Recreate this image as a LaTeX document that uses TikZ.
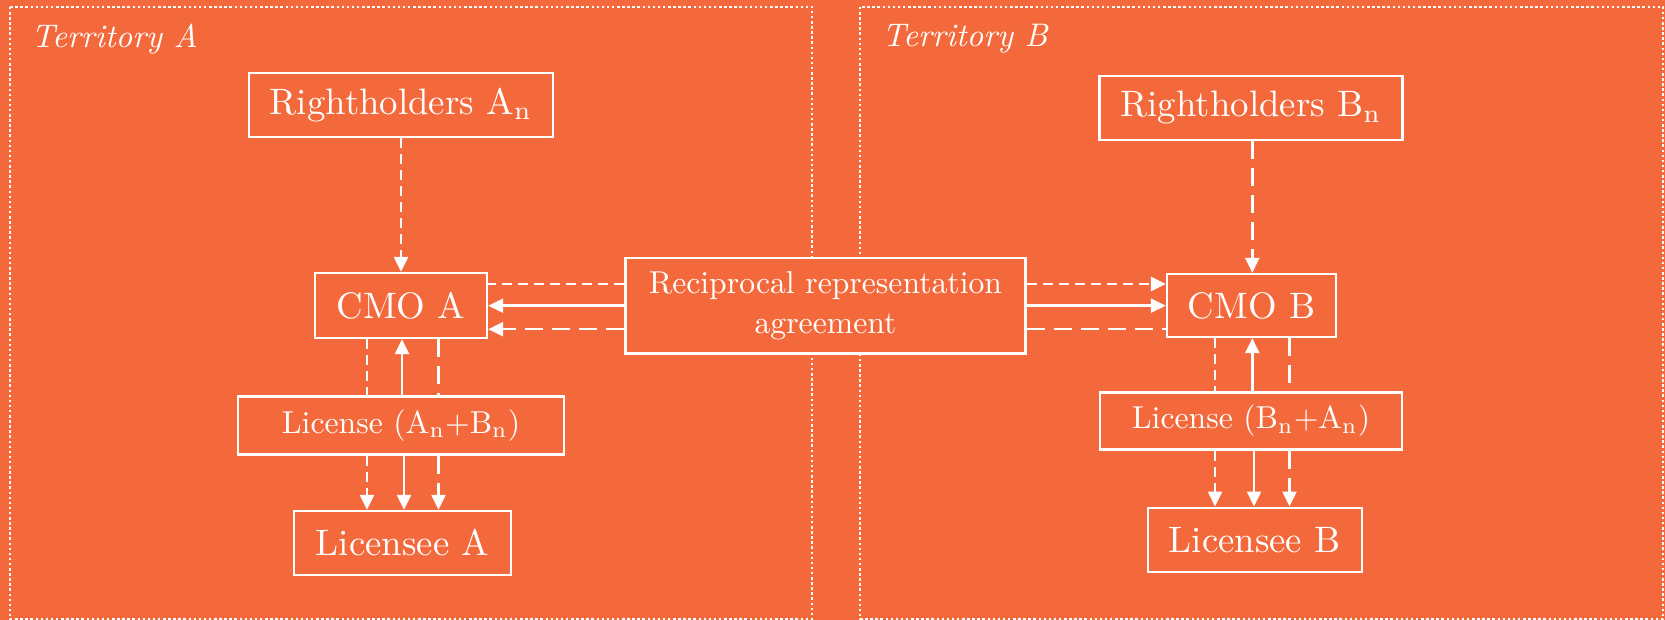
\documentclass[tikz,border=0pt]{standalone}
\usepackage{graphicx}
\usetikzlibrary{arrows.meta}
\definecolor{bg}{RGB}{243,105,59}
\newcommand{\bigt}[1]{\scalebox{3.68}{\fontsize{10}{12}\selectfont #1}}
\newcommand{\medt}[1]{\scalebox{3.17}{\fontsize{10}{12.6}\selectfont #1}}
\newcommand{\terrt}[1]{\scalebox{3.27}{\fontsize{10}{12}\selectfont\itshape #1}}
\begin{document}
\begin{tikzpicture}[x=1pt,y=-1pt,
  box/.style={draw=white,line width=2.4pt,fill=bg,text=white,inner sep=0pt,align=center},
  terr/.style={draw=white,line width=2.5pt,dash pattern=on 2.5pt off 2.6pt},
  sdash/.style={draw=white,line width=2.4pt,dash pattern=on 10pt off 6pt},
  ldash/.style={draw=white,line width=2.4pt,dash pattern=on 18pt off 9pt},
  solidl/.style={draw=white,line width=2.4pt},
  tip/.style={-{Triangle[length=15pt,width=14pt]}}]
\useasboundingbox (0,0) rectangle (1665,620);
\fill[bg] (0,0) rectangle (1665,620);
% territories
\draw[terr] (10,7) rectangle (812,619);
\draw[terr] (860,7) rectangle (1663,619);
\node[anchor=base west,text=white,inner sep=0pt] (tA) at (31,47.3) {\terrt{Territory A}};
\node[anchor=base west,text=white,inner sep=0pt] (tB) at (882,46.7) {\terrt{Territory B}};
% nodes
\node[box,minimum width=304,minimum height=64] (rhA) at (401,105) {\bigt{Rightholders A\textsubscript{n}}};
\node[box,minimum width=303,minimum height=64] (rhB) at (1251,108) {\bigt{Rightholders B\textsubscript{n}}};
\node[box,minimum width=172,minimum height=65] (cmoA) at (401,305.5) {\bigt{CMO A}};
\node[box,minimum width=169,minimum height=63] (cmoB) at (1251.5,305.5) {\bigt{CMO B}};
\node[box,minimum width=400,minimum height=95] (rec) at (825.5,305.8) {\medt{\begin{tabular}{@{}c@{}}Reciprocal representation\\agreement\end{tabular}}};
\node[box,minimum width=326,minimum height=58] (licA) at (401,425.3) {\medt{License (A\textsubscript{n}+B\textsubscript{n})}};
\node[box,minimum width=302,minimum height=57] (licB) at (1251,421) {\medt{License (B\textsubscript{n}+A\textsubscript{n})}};
\node[box,minimum width=217,minimum height=64] (leA) at (402.5,543) {\bigt{Licensee A}};
\node[box,minimum width=214,minimum height=64] (leB) at (1254.7,539.7) {\bigt{Licensee B}};
% helper coordinates
\coordinate (ya) at (0,284);
\coordinate (yb) at (0,305.7);
\coordinate (yc) at (0,329.2);
\coordinate (xa1) at (367,0);
\coordinate (xa2) at (402,0);
\coordinate (xa3) at (438.5,0);
\coordinate (xa4) at (404,0);
\coordinate (xb1) at (1215,0);
\coordinate (xb2) at (1252.3,0);
\coordinate (xb3) at (1289.5,0);
\coordinate (xb4) at (1254,0);
% rightholders to CMO
\draw[sdash,tip] (rhA) -- (cmoA);
\draw[ldash,tip] (rhB.south -| xb2) -- (cmoB.north -| xb2);
% reciprocal to CMO A
\draw[sdash] (rec.west |- ya) -- (cmoA.east |- ya);
\draw[solidl,tip] (rec.west |- yb) -- (cmoA.east |- yb);
\draw[ldash,tip] (rec.west |- yc) -- (cmoA.east |- yc);
% reciprocal to CMO B
\draw[sdash,tip] (rec.east |- ya) -- (cmoB.west |- ya);
\draw[solidl,tip] (rec.east |- yb) -- (cmoB.west |- yb);
\draw[ldash] (rec.east |- yc) -- (cmoB.west |- yc);
% territory A vertical
\draw[sdash] (cmoA.south -| xa1) -- (licA.north -| xa1);
\draw[solidl,tip] (licA.north -| xa2) -- (cmoA.south -| xa2);
\draw[ldash] (cmoA.south -| xa3) -- (licA.north -| xa3);
\draw[sdash,tip] (licA.south -| xa1) -- (leA.north -| xa1);
\draw[solidl,tip] (licA.south -| xa4) -- (leA.north -| xa4);
\draw[ldash,tip] (licA.south -| xa3) -- (leA.north -| xa3);
% territory B vertical
\draw[sdash] (cmoB.south -| xb1) -- (licB.north -| xb1);
\draw[solidl,tip] (licB.north -| xb2) -- (cmoB.south -| xb2);
\draw[ldash] (cmoB.south -| xb3) -- (licB.north -| xb3);
\draw[sdash,tip] (licB.south -| xb1) -- (leB.north -| xb1);
\draw[solidl,tip] (licB.south -| xb4) -- (leB.north -| xb4);
\draw[ldash,tip] (licB.south -| xb3) -- (leB.north -| xb3);
\end{tikzpicture}
\end{document}
